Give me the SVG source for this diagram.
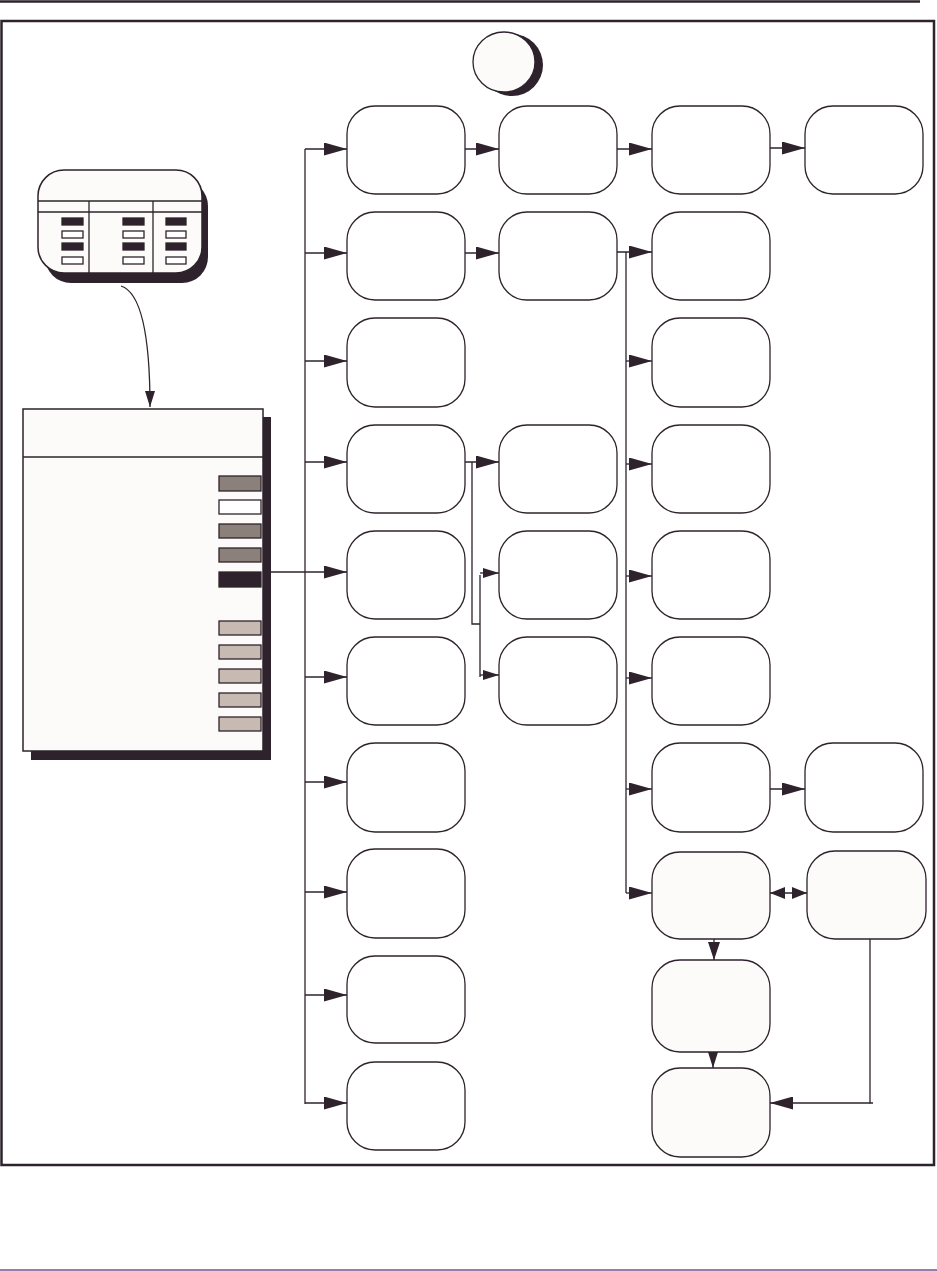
<svg xmlns="http://www.w3.org/2000/svg" width="937" height="1271" viewBox="0 0 937 1271">
<style>
.ln{fill:none;stroke:#2e232c;stroke-width:1.3}
.nd{fill:#ffffff;stroke:#2e232c;stroke-width:1.3}
.nf{fill:#fcfbf9;stroke:#2e232c;stroke-width:1.3}
.sh{fill:#2e232c}
.pn{fill:#fcfbf9;stroke:#2e232c;stroke-width:1.5}
.k1{fill:#8b807a;stroke:#2e232c;stroke-width:1.3}
.k2{fill:#ffffff;stroke:#2e232c;stroke-width:1.3}
.k3{fill:#2e232c;stroke:#2e232c;stroke-width:1.3}
.k4{fill:#c6bab2;stroke:#2e232c;stroke-width:1.3}
</style>
<defs>
<marker id="big" markerUnits="userSpaceOnUse" markerWidth="23" markerHeight="13" refX="23" refY="6.5" orient="auto"><path d="M0,0 L23,6.5 L0,13 z" fill="#2e232c"/></marker>
<marker id="mid" markerUnits="userSpaceOnUse" markerWidth="18" markerHeight="12" refX="18" refY="6" orient="auto"><path d="M0,0 L18,6 L0,12 z" fill="#2e232c"/></marker>
<marker id="dbl" markerUnits="userSpaceOnUse" markerWidth="15" markerHeight="12" refX="15" refY="6" orient="auto-start-reverse"><path d="M0,0 L15,6 L0,12 z" fill="#2e232c"/></marker>
<marker id="sm" markerUnits="userSpaceOnUse" markerWidth="16" markerHeight="10" refX="16" refY="5" orient="auto"><path d="M0,0 L16,5 L0,10 z" fill="#2e232c"/></marker>
</defs>
<rect x="0" y="0" width="937" height="1271" fill="#ffffff"/>
<line x1="0" y1="1.5" x2="920" y2="1.5" stroke="#2e232c" stroke-width="2.5"/>
<rect x="1.5" y="21" width="932.5" height="1144" fill="none" stroke="#2e232c" stroke-width="2.5"/>
<line x1="0" y1="1270" x2="937" y2="1270" stroke="#7b4f8e" stroke-width="1.5"/>

<g id="start">
<ellipse cx="512" cy="65" rx="31" ry="31" class="sh"/>
<ellipse cx="504" cy="62" rx="31" ry="30" class="nf"/>
</g>

<g id="keypad">
<rect x="45" y="180" width="163" height="103" rx="26" class="sh"/>
<rect x="38" y="170" width="164" height="103" rx="26" class="pn"/>
<line x1="38" y1="201" x2="202" y2="201" class="ln"/>
<line x1="38" y1="212" x2="202" y2="212" class="ln"/>
<line x1="89" y1="201" x2="89" y2="273" class="ln"/>
<line x1="153" y1="201" x2="153" y2="273" class="ln"/>
<rect x="62" y="218" width="21" height="7" class="k3"/>
<rect x="62" y="231" width="21" height="7" class="k2"/>
<rect x="62" y="243" width="21" height="7" class="k3"/>
<rect x="62" y="257" width="21" height="7" class="k2"/>
<rect x="123" y="218" width="21" height="7" class="k3"/>
<rect x="123" y="231" width="21" height="7" class="k2"/>
<rect x="123" y="243" width="21" height="7" class="k3"/>
<rect x="123" y="257" width="21" height="7" class="k2"/>
<rect x="166" y="218" width="20" height="7" class="k3"/>
<rect x="166" y="231" width="20" height="7" class="k2"/>
<rect x="166" y="243" width="20" height="7" class="k3"/>
<rect x="166" y="257" width="20" height="7" class="k2"/>
</g>

<g id="menu">
<rect x="31" y="417" width="240" height="343" class="sh"/>
<rect x="23" y="409" width="240" height="342" class="pn"/>
<line x1="23" y1="457" x2="263" y2="457" class="ln"/>
<rect x="219" y="476" width="42" height="15" class="k1"/>
<rect x="219" y="500" width="42" height="14" class="k2"/>
<rect x="219" y="524" width="42" height="14" class="k1"/>
<rect x="219" y="548" width="42" height="14" class="k1"/>
<rect x="219" y="572" width="42" height="15" class="k3"/>
<rect x="219" y="621" width="42" height="14" class="k4"/>
<rect x="219" y="645" width="42" height="14" class="k4"/>
<rect x="219" y="669" width="42" height="14" class="k4"/>
<rect x="219" y="693" width="42" height="14" class="k4"/>
<rect x="219" y="717" width="42" height="14" class="k4"/>
</g>

<g id="colA">
<rect id="a0" x="347" y="106" width="118" height="88" rx="28" class="nd"/>
<rect id="a1" x="347" y="212" width="118" height="88" rx="28" class="nd"/>
<rect id="a2" x="347" y="318" width="118" height="89" rx="28" class="nd"/>
<rect id="a3" x="347" y="425" width="118" height="88" rx="28" class="nd"/>
<rect id="a4" x="347" y="531" width="118" height="88" rx="28" class="nd"/>
<rect id="a5" x="347" y="637" width="118" height="88" rx="28" class="nd"/>
<rect id="a6" x="347" y="743" width="118" height="89" rx="28" class="nd"/>
<rect id="a7" x="347" y="849" width="118" height="89" rx="28" class="nd"/>
<rect id="a8" x="347" y="956" width="118" height="87" rx="28" class="nd"/>
<rect id="a9" x="347" y="1062" width="118" height="88" rx="28" class="nd"/>
</g>
<g id="colB">
<rect id="b0" x="499" y="106" width="118" height="88" rx="28" class="nd"/>
<rect id="b1" x="499" y="212" width="118" height="88" rx="28" class="nd"/>
<rect id="b3" x="499" y="425" width="118" height="88" rx="28" class="nd"/>
<rect id="b4" x="499" y="531" width="118" height="88" rx="28" class="nd"/>
<rect id="b5" x="499" y="637" width="118" height="88" rx="28" class="nd"/>
</g>
<g id="colC">
<rect id="c0" x="652" y="106" width="118" height="88" rx="28" class="nd"/>
<rect id="c1" x="652" y="212" width="118" height="88" rx="28" class="nd"/>
<rect id="c2" x="652" y="318" width="118" height="89" rx="28" class="nd"/>
<rect id="c3" x="652" y="425" width="118" height="88" rx="28" class="nd"/>
<rect id="c4" x="652" y="531" width="118" height="88" rx="28" class="nd"/>
<rect id="c5" x="652" y="637" width="118" height="88" rx="28" class="nd"/>
<rect id="c6" x="652" y="743" width="118" height="89" rx="28" class="nd"/>
<rect id="c7" x="652" y="852" width="118" height="87" rx="28" class="nf"/>
<rect id="c8" x="652" y="960" width="118" height="92" rx="28" class="nf"/>
<rect id="c9" x="652" y="1068" width="118" height="89" rx="28" class="nf"/>
</g>
<g id="colD">
<rect id="d0" x="805" y="106" width="118" height="88" rx="28" class="nd"/>
<rect id="d6" x="805" y="743" width="118" height="89" rx="28" class="nd"/>
<rect id="d7" x="807" y="851" width="119" height="88" rx="28" class="nf"/>
</g>

<g id="connectors">
<path d="M121,286 C140,292 150,330 150,407" class="ln" marker-end="url(#sm)"/>
<line x1="305" y1="149" x2="305" y2="1104" class="ln"/>
<line x1="271" y1="572" x2="347" y2="572" class="ln" marker-end="url(#big)"/>
<line x1="305" y1="149" x2="347" y2="149" class="ln" marker-end="url(#big)"/>
<line x1="305" y1="253" x2="347" y2="253" class="ln" marker-end="url(#big)"/>
<line x1="305" y1="361" x2="347" y2="361" class="ln" marker-end="url(#big)"/>
<line x1="305" y1="462" x2="347" y2="462" class="ln" marker-end="url(#big)"/>
<line x1="305" y1="677" x2="347" y2="677" class="ln" marker-end="url(#big)"/>
<line x1="305" y1="782" x2="347" y2="782" class="ln" marker-end="url(#big)"/>
<line x1="305" y1="892" x2="347" y2="892" class="ln" marker-end="url(#big)"/>
<line x1="305" y1="995" x2="347" y2="995" class="ln" marker-end="url(#big)"/>
<line x1="305" y1="1103" x2="347" y2="1103" class="ln" marker-end="url(#big)"/>

<line x1="465" y1="149" x2="499" y2="149" class="ln" marker-end="url(#big)"/>
<line x1="617" y1="149" x2="652" y2="149" class="ln" marker-end="url(#big)"/>
<line x1="770" y1="148" x2="805" y2="148" class="ln" marker-end="url(#big)"/>
<line x1="465" y1="253" x2="499" y2="253" class="ln" marker-end="url(#big)"/>

<line x1="465" y1="462" x2="499" y2="462" class="ln" marker-end="url(#big)"/>
<polyline points="472,462 472,624 480,624" class="ln"/>
<line x1="480" y1="575" x2="480" y2="677" class="ln"/>
<line x1="480" y1="573" x2="499" y2="573" class="ln" marker-end="url(#sm)"/>
<line x1="480" y1="675" x2="499" y2="675" class="ln" marker-end="url(#sm)"/>

<line x1="617" y1="252" x2="652" y2="252" class="ln" marker-end="url(#big)"/>
<line x1="626" y1="252" x2="626" y2="893" class="ln"/>
<line x1="626" y1="361" x2="652" y2="361" class="ln" marker-end="url(#big)"/>
<line x1="626" y1="464" x2="652" y2="464" class="ln" marker-end="url(#big)"/>
<line x1="626" y1="576" x2="652" y2="576" class="ln" marker-end="url(#big)"/>
<line x1="626" y1="678" x2="652" y2="678" class="ln" marker-end="url(#big)"/>
<line x1="626" y1="789" x2="652" y2="789" class="ln" marker-end="url(#big)"/>
<line x1="626" y1="893" x2="652" y2="893" class="ln" marker-end="url(#big)"/>
<line x1="770" y1="789" x2="805" y2="789" class="ln" marker-end="url(#big)"/>

<line x1="770" y1="893" x2="807" y2="893" class="ln" marker-start="url(#dbl)" marker-end="url(#dbl)"/>
<line x1="714" y1="939" x2="714" y2="960" class="ln" marker-end="url(#mid)"/>
<line x1="713" y1="1052" x2="713" y2="1068" class="ln" marker-end="url(#sm)"/>
<polyline points="870,939 870,1103 873,1103" class="ln"/>
<line x1="870" y1="1103" x2="770" y2="1103" class="ln" marker-end="url(#big)"/>
</g>
</svg>
